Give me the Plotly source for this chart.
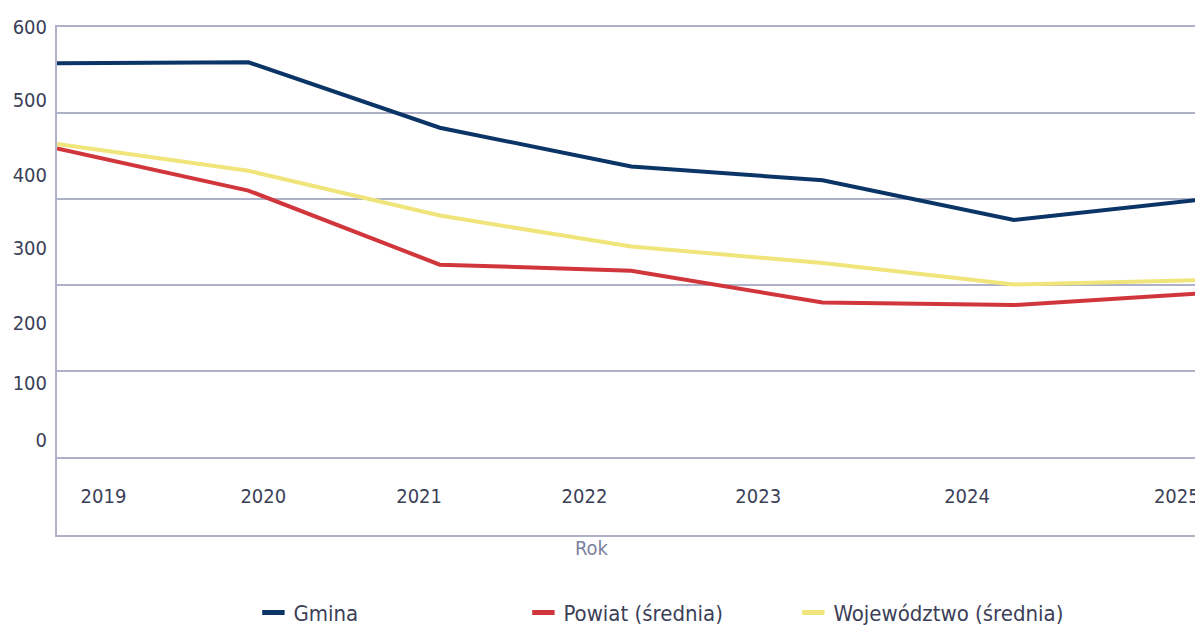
import plotly.graph_objects as go

# ---- data ----
years = [2019, 2020, 2021, 2022, 2023, 2024, 2025]
gmina = [558, 559, 483, 438, 422, 376, 400]
powiat = [459, 410, 324, 317, 280, 277, 291]
wojewodztwo = [464, 433, 381, 345, 326, 301, 306]

series_names = ["Gmina", "Powiat (średnia)", "Województwo (średnia)"]
series_colors = ["#0b3566", "#d0363b", "#f0e57a"]

y_grid_vals = [100, 200, 300, 400, 500, 600]
y_label_text = ["600", "500", "400", "300", "200", "100", "0"]
y_label_pos = [600, 515, 428, 343, 256, 187, 120]          # where the labels sit
x_label_text = ["2019", "2020", "2021", "2022", "2023", "2024", "2025"]
x_label_pos = [2019.243, 2020.078, 2020.892, 2021.756, 2022.664, 2023.755, 2024.851]

FONT = "DejaVu Sans Condensed, DejaVu Sans, sans-serif"
GRID = "#aeb1c7"
TXT = "#3c3f58"

fig = go.Figure()
for name, vals, col in zip(series_names, [gmina, powiat, wojewodztwo], series_colors):
    fig.add_trace(go.Scatter(x=years, y=vals, mode="lines", name=name,
                             line=dict(color=col, width=4), showlegend=False,
                             hoverinfo="x+y+name"))
# legend entries (short thick dash symbols), attached to overlay axes
for name, col in zip(series_names, series_colors):
    fig.add_trace(go.Scatter(x=[None], y=[None], mode="markers", name=name,
                             marker=dict(symbol="line-ew", size=22,
                                         line=dict(color=col, width=5.5)),
                             xaxis="x2", yaxis="y2", showlegend=True))

yr = [10, 600]
xr = [2019, 2024.946]

fig.update_layout(
    width=1195, height=628,
    margin=dict(l=57, r=0, t=27, b=93),
    paper_bgcolor="white", plot_bgcolor="white",
    font=dict(family=FONT, size=20, color=TXT),
    xaxis=dict(range=xr, showticklabels=False, showgrid=False, zeroline=False,
               showline=True, mirror=True, linecolor=GRID, linewidth=1.5, ticks="",
               automargin=False),
    yaxis=dict(range=yr, tickvals=y_grid_vals, showticklabels=False,
               showgrid=True, gridcolor=GRID, gridwidth=1.5, zeroline=False,
               showline=True, linecolor=GRID, linewidth=1.5, ticks="",
               automargin=False),
    xaxis2=dict(range=xr, overlaying="x", anchor="free", position=0.104,
                tickvals=x_label_pos, ticktext=x_label_text, showgrid=False,
                zeroline=False, showline=False, ticks="", automargin=False,
                ticklabeloverflow="allow",
                tickfont=dict(family=FONT, size=20, color=TXT)),
    yaxis2=dict(range=yr, overlaying="y", anchor="free", position=0, side="left",
                tickvals=y_label_pos, ticktext=y_label_text, showgrid=False,
                zeroline=False, showline=False, ticks="outside", ticklen=6,
                tickcolor="rgba(0,0,0,0)", automargin=False,
                ticklabeloverflow="allow",
                tickfont=dict(family=FONT, size=20, color=TXT)),
    legend=dict(orientation="h", x=0.1726, xanchor="left",
                yref="container", y=0.058, yanchor="top",
                entrywidth=225, entrywidthmode="pixels", itemwidth=30,
                font=dict(family=FONT, size=22, color=TXT), bgcolor="rgba(0,0,0,0)"),
    annotations=[dict(text="Rok", x=0.470, y=0.002, xref="paper", yref="paper",
                      xanchor="center", yanchor="top", showarrow=False,
                      font=dict(family=FONT, size=20, color="#7c81a0"))],
    showlegend=True,
)

fig.write_html("out.html", config={"displayModeBar": False},
               post_script="document.body.style.margin='0';")
